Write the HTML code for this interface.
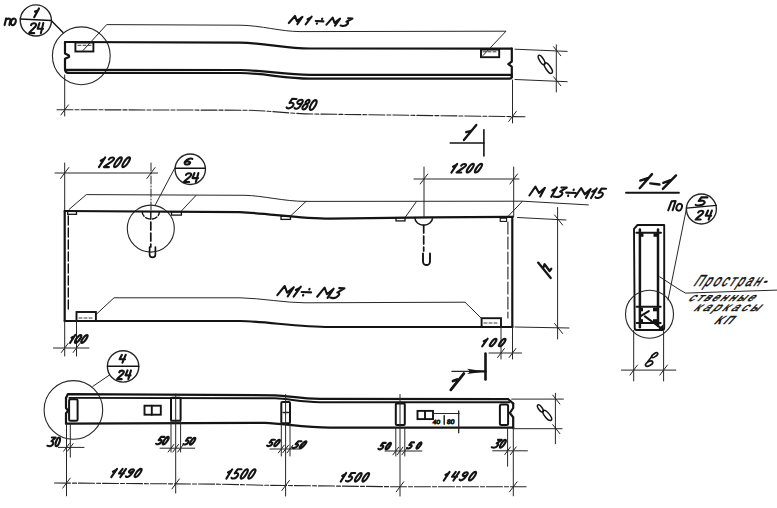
<!DOCTYPE html>
<html><head><meta charset="utf-8"><style>
html,body{margin:0;padding:0;background:#fff;width:777px;height:508px;overflow:hidden}
svg{display:block}
text{font-family:"Liberation Sans",sans-serif}
</style></head><body>
<svg width="777" height="508" viewBox="0 0 777 508">
<circle cx="35.85" cy="20.45" r="15.6" fill="none" stroke="#262626" stroke-width="1.4"/>
<path d="M20.1,18.9 L51.2,20.6" fill="none" stroke="#141414" stroke-width="1.5" stroke-linecap="round" stroke-linejoin="round" />
<path d="M51.2,20.6 L63,32.5" fill="none" stroke="#141414" stroke-width="1.4" stroke-linecap="round" stroke-linejoin="round" />
<g id="h490a3461" transform="matrix(1.0898,0,0,1.0090,-0.782,-0.482)"><g transform="translate(4.950,25.350) rotate(0) scale(0.9429) skewX(-12.000000000000002)" fill="none" stroke="#141414" stroke-width="2.1" stroke-linecap="round" stroke-linejoin="round"><path vector-effect="non-scaling-stroke" transform="translate(0.000,0) scale(1.15,1)" d="M0,0 L0,-7 M0,-5 C0.4,-7.4 4,-7.4 4,-5 L4,0"/><path vector-effect="non-scaling-stroke" transform="translate(5.473,0) scale(1.15,1)" d="M2,-7 A2,3.5 0 1 1 2,0 A2,3.5 0 1 1 2,-7 Z"/></g></g>
<path d="M34.2,17.2 L39,8.5 M35,11.6 L37.2,10.9" fill="none" stroke="#141414" stroke-width="2.2" stroke-linecap="round" stroke-linejoin="round" />
<g id="h47fd73af" transform="matrix(1.0954,0,0,0.9634,-2.672,0.806)"><g transform="translate(29.050,33.550) rotate(0) scale(1.0500) skewX(-12.000000000000002)" fill="none" stroke="#141414" stroke-width="2.1" stroke-linecap="round" stroke-linejoin="round"><path vector-effect="non-scaling-stroke" transform="translate(0.000,0) scale(1.1,1)" d="M0,-7.8 C0,-10.5 4,-10.5 4,-7.8 C4,-5.5 1,-3 0,0 L4,0"/><path vector-effect="non-scaling-stroke" transform="translate(6.258,0) scale(1.1,1)" d="M0.6,-10 L0.2,-4.3 L4.5,-4.3 M3.6,-10 L3.6,0"/></g></g>
<circle cx="81.3" cy="55.8" r="28.9" fill="none" stroke="#262626" stroke-width="1.1"/>
<path d="M65,42 L240,42.6 C265,43 285,48.3 310,48.5 L511.8,48.6" fill="none" stroke="#141414" stroke-width="2.2" stroke-linecap="round" stroke-linejoin="round" />
<path d="M65,42 L65,53.5 L69,55.5 L69,57 L65,58.8 L65,69 Q65,72.9 68.5,72.9" fill="none" stroke="#141414" stroke-width="2.2" stroke-linecap="round" stroke-linejoin="round" />
<path d="M66.5,69.8 L240,70 C265,70.3 285,74.9 310,74.9 L511.8,74.9" fill="none" stroke="#141414" stroke-width="2.2" stroke-linecap="round" stroke-linejoin="round" />
<path d="M68.5,72.9 L240,73 C265,73.3 285,78.6 310,78.6 L509.5,78.6 Q511.8,78.6 511.8,76.5" fill="none" stroke="#141414" stroke-width="2.2" stroke-linecap="round" stroke-linejoin="round" />
<path d="M511.8,48.5 L511.8,61.5 L508.3,64.1 L511.8,66.7 L511.8,77" fill="none" stroke="#141414" stroke-width="2.2" stroke-linecap="round" stroke-linejoin="round" />
<rect x="75.4" y="42.5" width="18.0" height="9.0" rx="0" fill="none" stroke="#141414" stroke-width="1.9"/>
<path d="M78,45.3 L91,45.3" fill="none" stroke="#262626" stroke-width="0.9" stroke-linecap="round" stroke-linejoin="round" stroke-dasharray="3 2"/>
<path d="M83,50.5 L106.7,24.6 L240,25.2 C262,25.5 280,31.5 300,31.6 L506,31.2 L483,55.5" fill="none" stroke="#262626" stroke-width="1.0" stroke-linecap="round" stroke-linejoin="round" />
<rect x="481" y="49.6" width="18.2" height="7.6" rx="0" fill="none" stroke="#141414" stroke-width="1.9"/>
<path d="M483,51.8 L497,51.8" fill="none" stroke="#262626" stroke-width="0.9" stroke-linecap="round" stroke-linejoin="round" stroke-dasharray="3 2"/>
<g id="h900a503b" transform="matrix(0.9862,0,0,0.8209,4.313,2.374)"><g transform="translate(288.650,25.950) rotate(3) scale(0.9700) skewX(-30)" fill="none" stroke="#141414" stroke-width="2.1" stroke-linecap="round" stroke-linejoin="round"><path vector-effect="non-scaling-stroke" transform="translate(0.000,0) scale(1.15,1)" d="M-0.6,-0.8 L0,-10 L5.2,-3.6 L7.2,-9.2 L7.6,0"/><path vector-effect="non-scaling-stroke" transform="translate(15.601,0) scale(1.15,1)" d="M1.6,0 L1.6,-10 M-0.3,-6.6 L1.5,-8.6"/><path vector-effect="non-scaling-stroke" transform="translate(24.991,0) scale(1.15,1)" d="M0,-4.8 L7,-4.8 M4.1,-8.2 L4.2,-7.6 M2.7,-2 L2.8,-1.4"/><path vector-effect="non-scaling-stroke" transform="translate(39.442,0) scale(1.15,1)" d="M-0.6,-0.8 L0,-10 L5.2,-3.6 L7.2,-9.2 L7.6,0"/><path vector-effect="non-scaling-stroke" transform="translate(55.043,0) scale(1.15,1)" d="M0.5,-10 L4.4,-10 L1.4,-5.6 C4.8,-5.6 4.8,0 1.2,0 L-1.2,-0.5"/></g></g>
<g id="h5550714c" transform="matrix(1.0350,0,0,0.9120,-10.460,8.280)"><g transform="translate(286.450,109.750) rotate(4) scale(1.1000) skewX(-21.436777074430047)" fill="none" stroke="#141414" stroke-width="2.1" stroke-linecap="round" stroke-linejoin="round"><path vector-effect="non-scaling-stroke" transform="translate(0.000,0) scale(1.15,1)" d="M4,-10 L0.7,-10 L0.4,-5.6 C1.3,-6.4 4.2,-6.4 4.2,-3 C4.2,0.3 0.8,0.3 0,-1"/><path vector-effect="non-scaling-stroke" transform="translate(6.830,0) scale(1.15,1)" d="M3.8,-7.2 C3.8,-4.5 0,-4.5 0,-7.2 C0,-10.3 3.8,-10.3 3.8,-7.2 L3.6,-3 C3.4,0.3 0.8,0.3 0.2,-1"/><path vector-effect="non-scaling-stroke" transform="translate(13.200,0) scale(1.15,1)" d="M1.9,-5.6 C3.6,-5.6 3.6,-10 1.9,-10 C0.2,-10 0.2,-5.6 1.9,-5.6 C4,-5.6 4,0 1.9,0 C-0.2,0 -0.2,-5.6 1.9,-5.6 Z"/><path vector-effect="non-scaling-stroke" transform="translate(19.570,0) scale(1.15,1)" d="M1.8,-10 A1.8,5 0 1 1 1.8,0 A1.8,5 0 1 1 1.8,-10 Z"/></g></g>
<path d="M64.7,75 L64.7,116" fill="none" stroke="#262626" stroke-width="1.0" stroke-linecap="round" stroke-linejoin="round" />
<path d="M57,109.7 L245,110.2 C270,110.5 290,114 320,114.1 L525,116.8" fill="none" stroke="#262626" stroke-width="1.1" stroke-linecap="round" stroke-linejoin="round" stroke-dasharray="16 2 4 2"/>
<path d="M512.5,80 L512.5,123" fill="none" stroke="#262626" stroke-width="1.0" stroke-linecap="round" stroke-linejoin="round" />
<path d="M60.95,114.9 L68.45,104.9" fill="none" stroke="#262626" stroke-width="1.0" stroke-linecap="round" stroke-linejoin="round" />
<path d="M508.75,121.4 L516.25,111.4" fill="none" stroke="#262626" stroke-width="1.0" stroke-linecap="round" stroke-linejoin="round" />
<path d="M515,49.2 L567.2,51.4" fill="none" stroke="#262626" stroke-width="1.0" stroke-linecap="round" stroke-linejoin="round" />
<path d="M515,79.5 L567.2,81.7" fill="none" stroke="#262626" stroke-width="1.0" stroke-linecap="round" stroke-linejoin="round" />
<path d="M556.3,44.9 L556.3,92" fill="none" stroke="#262626" stroke-width="1.0" stroke-linecap="round" stroke-linejoin="round" />
<path d="M553.6,46.75 L560.8,55.75" fill="none" stroke="#262626" stroke-width="1.0" stroke-linecap="round" stroke-linejoin="round" />
<path d="M553.6,76.75 L560.8,85.75" fill="none" stroke="#262626" stroke-width="1.0" stroke-linecap="round" stroke-linejoin="round" />
<ellipse cx="541.6" cy="60" rx="5.4" ry="2.0" transform="rotate(58 541.6 60)" fill="none" stroke="#141414" stroke-width="1.5"/>
<ellipse cx="548.3" cy="68.1" rx="6.1" ry="2.4" transform="rotate(55 548.3 68.1)" fill="none" stroke="#141414" stroke-width="1.5"/>
<path d="M450.2,143 L483.9,143" fill="none" stroke="#141414" stroke-width="1.5" stroke-linecap="round" stroke-linejoin="round" />
<path d="M483.9,129.8 L483.9,155.9" fill="none" stroke="#141414" stroke-width="1.6" stroke-linecap="round" stroke-linejoin="round" />
<path d="M463.9,140 L476.3,124.9 M466.2,132.2 L470.5,131" fill="none" stroke="#141414" stroke-width="2.3" stroke-linecap="round" stroke-linejoin="round" />
<path d="M55,173 L157.6,173" fill="none" stroke="#262626" stroke-width="1.0" stroke-linecap="round" stroke-linejoin="round" />
<path d="M60.58,178.5 L68.83,167.5" fill="none" stroke="#262626" stroke-width="1.0" stroke-linecap="round" stroke-linejoin="round" />
<path d="M146.88,178.5 L155.12,167.5" fill="none" stroke="#262626" stroke-width="1.0" stroke-linecap="round" stroke-linejoin="round" />
<path d="M64.7,163 L64.7,212" fill="none" stroke="#262626" stroke-width="1.0" stroke-linecap="round" stroke-linejoin="round" />
<path d="M151,163 L151,211" fill="none" stroke="#262626" stroke-width="1.0" stroke-linecap="round" stroke-linejoin="round" stroke-dasharray="8 2 1 2"/>
<g id="h69ad45b2" transform="matrix(1.1091,0,0,0.9908,-13.135,1.465)"><g transform="translate(99.250,167.150) rotate(0) scale(0.9800) skewX(-30)" fill="none" stroke="#141414" stroke-width="2.1" stroke-linecap="round" stroke-linejoin="round"><path vector-effect="non-scaling-stroke" transform="translate(0.000,0) scale(1.15,1)" d="M1.6,0 L1.6,-10 M-0.3,-6.6 L1.5,-8.6"/><path vector-effect="non-scaling-stroke" transform="translate(6.388,0) scale(1.15,1)" d="M0,-7.8 C0,-10.5 4,-10.5 4,-7.8 C4,-5.5 1,-3 0,0 L4,0"/><path vector-effect="non-scaling-stroke" transform="translate(14.385,0) scale(1.15,1)" d="M1.8,-10 A1.8,5 0 1 1 1.8,0 A1.8,5 0 1 1 1.8,-10 Z"/><path vector-effect="non-scaling-stroke" transform="translate(21.923,0) scale(1.15,1)" d="M1.8,-10 A1.8,5 0 1 1 1.8,0 A1.8,5 0 1 1 1.8,-10 Z"/></g></g>
<path d="M414,179 L519,179" fill="none" stroke="#262626" stroke-width="1.0" stroke-linecap="round" stroke-linejoin="round" />
<path d="M420.25,184 L427.75,174" fill="none" stroke="#262626" stroke-width="1.0" stroke-linecap="round" stroke-linejoin="round" />
<path d="M509.95,184 L517.45,174" fill="none" stroke="#262626" stroke-width="1.0" stroke-linecap="round" stroke-linejoin="round" />
<path d="M424,167 L424,217" fill="none" stroke="#262626" stroke-width="1.0" stroke-linecap="round" stroke-linejoin="round" />
<path d="M513.7,167 L513.7,216.5" fill="none" stroke="#262626" stroke-width="1.0" stroke-linecap="round" stroke-linejoin="round" />
<g id="h1946f7e4" transform="matrix(1.1000,0,0,0.9512,-47.200,8.136)"><g transform="translate(451.550,172.850) rotate(0) scale(0.9200) skewX(-30)" fill="none" stroke="#141414" stroke-width="2.1" stroke-linecap="round" stroke-linejoin="round"><path vector-effect="non-scaling-stroke" transform="translate(0.000,0) scale(1.15,1)" d="M1.6,0 L1.6,-10 M-0.3,-6.6 L1.5,-8.6"/><path vector-effect="non-scaling-stroke" transform="translate(6.971,0) scale(1.15,1)" d="M0,-7.8 C0,-10.5 4,-10.5 4,-7.8 C4,-5.5 1,-3 0,0 L4,0"/><path vector-effect="non-scaling-stroke" transform="translate(15.552,0) scale(1.15,1)" d="M1.8,-10 A1.8,5 0 1 1 1.8,0 A1.8,5 0 1 1 1.8,-10 Z"/><path vector-effect="non-scaling-stroke" transform="translate(23.673,0) scale(1.15,1)" d="M1.8,-10 A1.8,5 0 1 1 1.8,0 A1.8,5 0 1 1 1.8,-10 Z"/></g></g>
<circle cx="190.25" cy="169.25" r="15.2" fill="none" stroke="#262626" stroke-width="1.4"/>
<path d="M175.5,168.3 L205.2,168.3" fill="none" stroke="#141414" stroke-width="1.5" stroke-linecap="round" stroke-linejoin="round" />
<g id="hca6dbec5" transform="matrix(1.7580,0,0,1.0453,-142.196,-6.748)"><g transform="translate(184.850,164.350) rotate(0) scale(0.6200) skewX(-20)" fill="none" stroke="#141414" stroke-width="2.1" stroke-linecap="round" stroke-linejoin="round"><path vector-effect="non-scaling-stroke" transform="translate(0.000,0) scale(1.4,1)" d="M3.8,-9.5 C3,-10.4 0.3,-10.3 0.2,-5.2 C0.1,0 4,0.3 4,-2.9 C4,-5.8 0.6,-6.2 0.2,-3.8"/></g></g>
<g id="hf826437e" transform="matrix(1.0544,0,0,1.0000,-9.667,0.000)"><g transform="translate(183.650,181.950) rotate(0) scale(0.8900) skewX(-15.265468078920891)" fill="none" stroke="#141414" stroke-width="2.1" stroke-linecap="round" stroke-linejoin="round"><path vector-effect="non-scaling-stroke" transform="translate(0.000,0) scale(1.4,1)" d="M0,-7.8 C0,-10.5 4,-10.5 4,-7.8 C4,-5.5 1,-3 0,0 L4,0"/><path vector-effect="non-scaling-stroke" transform="translate(7.600,0) scale(1.4,1)" d="M0.6,-10 L0.2,-4.3 L4.5,-4.3 M3.6,-10 L3.6,0"/></g></g>
<path d="M174.8,168 L155.5,204.5" fill="none" stroke="#262626" stroke-width="1.0" stroke-linecap="round" stroke-linejoin="round" />
<circle cx="150.8" cy="228.6" r="23.5" fill="none" stroke="#262626" stroke-width="1.1"/>
<path d="M64.7,211 L240,212.2 C265,213 300,218.5 330,218.6 L430,217.3 L512.7,216.8" fill="none" stroke="#141414" stroke-width="2.2" stroke-linecap="round" stroke-linejoin="round" />
<path d="M64.7,321 L240,321 C265,321.5 300,327 330,327 L512.5,327" fill="none" stroke="#141414" stroke-width="2.2" stroke-linecap="round" stroke-linejoin="round" />
<path d="M64.7,211 L64.7,321" fill="none" stroke="#141414" stroke-width="2.2" stroke-linecap="round" stroke-linejoin="round" />
<path d="M68.3,216 L68.3,312" fill="none" stroke="#141414" stroke-width="1.4" stroke-linecap="round" stroke-linejoin="round" stroke-dasharray="9 3"/>
<path d="M512.3,216.8 L512.3,327" fill="none" stroke="#141414" stroke-width="2.2" stroke-linecap="round" stroke-linejoin="round" />
<path d="M507.9,222 L507.9,318" fill="none" stroke="#262626" stroke-width="1.1" stroke-linecap="round" stroke-linejoin="round" stroke-dasharray="12 3"/>
<path d="M69,209.5 L86.3,194.6 L245,195.3 C262,195.6 285,201.4 305,201.4 L522.5,201.2 L588.4,204.9" fill="none" stroke="#262626" stroke-width="1.0" stroke-linecap="round" stroke-linejoin="round" />
<path d="M181,211.4 L196,195.4" fill="none" stroke="#262626" stroke-width="1.0" stroke-linecap="round" stroke-linejoin="round" />
<path d="M290.5,216 L306,201.4" fill="none" stroke="#262626" stroke-width="1.0" stroke-linecap="round" stroke-linejoin="round" />
<path d="M405,217.6 L416.6,201.3" fill="none" stroke="#262626" stroke-width="1.0" stroke-linecap="round" stroke-linejoin="round" />
<path d="M507.6,216.8 L522.5,201.2" fill="none" stroke="#262626" stroke-width="1.0" stroke-linecap="round" stroke-linejoin="round" />
<rect x="67.7" y="211.2" width="8.8" height="3.1" rx="0" fill="none" stroke="#141414" stroke-width="1.3"/>
<rect x="171.5" y="211.6" width="9.9" height="3.5" rx="0" fill="none" stroke="#141414" stroke-width="1.3"/>
<rect x="281" y="216.2" width="9.5" height="3.2" rx="0" fill="none" stroke="#141414" stroke-width="1.3"/>
<rect x="396" y="217.6" width="9" height="3.3" rx="0" fill="none" stroke="#141414" stroke-width="1.3"/>
<rect x="500.2" y="218.2" width="6.4" height="3.2" rx="0" fill="none" stroke="#141414" stroke-width="1.1"/>
<path d="M142.2,211.8 A8.6,7.3 0 0 0 159.4,211.8" fill="none" stroke="#141414" stroke-width="1.4" stroke-linecap="round" stroke-linejoin="round" stroke-dasharray="5 2"/>
<path d="M150.8,212 L150.8,219" fill="none" stroke="#141414" stroke-width="1.4" stroke-linecap="round" stroke-linejoin="round" />
<path d="M150.8,222 L150.8,247" fill="none" stroke="#141414" stroke-width="1.7" stroke-linecap="round" stroke-linejoin="round" stroke-dasharray="8 3"/>
<path d="M149.6,247 L149.6,254.5 A2.9,2.9 0 0 0 155.4,254.5 L155.4,247" fill="none" stroke="#141414" stroke-width="1.7" stroke-linecap="round" stroke-linejoin="round" />
<path d="M414.9,217.8 A8.8,7.4 0 0 0 432.5,217.8" fill="none" stroke="#141414" stroke-width="1.5" stroke-linecap="round" stroke-linejoin="round" />
<path d="M423.7,225 L423.7,251" fill="none" stroke="#141414" stroke-width="1.7" stroke-linecap="round" stroke-linejoin="round" stroke-dasharray="8 3"/>
<path d="M423,253.4 L423,261.5 A3.5,3.5 0 0 0 430,261.5 L430,253.4" fill="none" stroke="#141414" stroke-width="1.9" stroke-linecap="round" stroke-linejoin="round" />
<path d="M96.6,314 L114,297.8 L240,297.8 C262,298.3 285,302.8 305,302.8 L465,302.2 L481.6,318.5" fill="none" stroke="#262626" stroke-width="1.0" stroke-linecap="round" stroke-linejoin="round" />
<rect x="76.5" y="312" width="19.4" height="9" rx="0" fill="none" stroke="#141414" stroke-width="1.9"/>
<path d="M79,318 L94,318" fill="none" stroke="#262626" stroke-width="0.9" stroke-linecap="round" stroke-linejoin="round" stroke-dasharray="3 2"/>
<rect x="481.6" y="318.2" width="19.4" height="8.8" rx="0" fill="none" stroke="#141414" stroke-width="1.9"/>
<path d="M484,323 L499,323" fill="none" stroke="#262626" stroke-width="0.9" stroke-linecap="round" stroke-linejoin="round" stroke-dasharray="3 2"/>
<g id="h2fa988ea" transform="matrix(0.9861,0,0,0.8683,4.239,37.216)"><g transform="translate(277.150,298.050) rotate(2.5) scale(1.1800) skewX(-30)" fill="none" stroke="#141414" stroke-width="2.1" stroke-linecap="round" stroke-linejoin="round"><path vector-effect="non-scaling-stroke" transform="translate(0.000,0) scale(1.15,1)" d="M-0.6,-0.8 L0,-10 L5.2,-3.6 L7.2,-9.2 L7.6,0"/><path vector-effect="non-scaling-stroke" transform="translate(11.994,0) scale(1.15,1)" d="M1.6,0 L1.6,-10 M-0.3,-6.6 L1.5,-8.6"/><path vector-effect="non-scaling-stroke" transform="translate(17.778,0) scale(1.15,1)" d="M0,-4.8 L7,-4.8 M4.1,-8.2 L4.2,-7.6 M2.7,-2 L2.8,-1.4"/><path vector-effect="non-scaling-stroke" transform="translate(34.291,0) scale(1.15,1)" d="M-0.6,-0.8 L0,-10 L5.2,-3.6 L7.2,-9.2 L7.6,0"/><path vector-effect="non-scaling-stroke" transform="translate(46.285,0) scale(1.15,1)" d="M0.5,-10 L4.4,-10 L1.4,-5.6 C4.8,-5.6 4.8,0 1.2,0 L-1.2,-0.5"/></g></g>
<path d="M64.7,321 L64.7,356" fill="none" stroke="#262626" stroke-width="1.0" stroke-linecap="round" stroke-linejoin="round" />
<path d="M76.5,321 L76.5,356" fill="none" stroke="#262626" stroke-width="1.0" stroke-linecap="round" stroke-linejoin="round" />
<path d="M53.5,348 L89,348" fill="none" stroke="#262626" stroke-width="1.0" stroke-linecap="round" stroke-linejoin="round" />
<path d="M61.33,352.5 L68.08,343.5" fill="none" stroke="#262626" stroke-width="1.0" stroke-linecap="round" stroke-linejoin="round" />
<path d="M73.12,352.5 L79.88,343.5" fill="none" stroke="#262626" stroke-width="1.0" stroke-linecap="round" stroke-linejoin="round" />
<g id="hb270a863" transform="matrix(1.1819,0,0,1.0338,-15.007,-11.628)"><g transform="translate(70.550,342.950) rotate(0) scale(0.7700) skewX(-30)" fill="none" stroke="#141414" stroke-width="2.1" stroke-linecap="round" stroke-linejoin="round"><path vector-effect="non-scaling-stroke" transform="translate(0.000,0) scale(1.15,1)" d="M1.6,0 L1.6,-10 M-0.3,-6.6 L1.5,-8.6"/><path vector-effect="non-scaling-stroke" transform="translate(5.767,0) scale(1.15,1)" d="M1.8,-10 A1.8,5 0 1 1 1.8,0 A1.8,5 0 1 1 1.8,-10 Z"/><path vector-effect="non-scaling-stroke" transform="translate(12.684,0) scale(1.15,1)" d="M1.8,-10 A1.8,5 0 1 1 1.8,0 A1.8,5 0 1 1 1.8,-10 Z"/></g></g>
<path d="M501,327 L501,359" fill="none" stroke="#262626" stroke-width="1.0" stroke-linecap="round" stroke-linejoin="round" />
<path d="M512.5,327 L512.5,359" fill="none" stroke="#262626" stroke-width="1.0" stroke-linecap="round" stroke-linejoin="round" />
<path d="M489,353 L521.5,353" fill="none" stroke="#262626" stroke-width="1.0" stroke-linecap="round" stroke-linejoin="round" />
<path d="M497.62,357.5 L504.38,348.5" fill="none" stroke="#262626" stroke-width="1.0" stroke-linecap="round" stroke-linejoin="round" />
<path d="M509.12,357.5 L515.88,348.5" fill="none" stroke="#262626" stroke-width="1.0" stroke-linecap="round" stroke-linejoin="round" />
<g id="hd41e3bdf" transform="matrix(1.1241,0,0,0.8894,-61.574,37.889)"><g transform="translate(482.150,346.750) rotate(0) scale(0.8500) skewX(-30)" fill="none" stroke="#141414" stroke-width="2.1" stroke-linecap="round" stroke-linejoin="round"><path vector-effect="non-scaling-stroke" transform="translate(0.000,0) scale(1.15,1)" d="M1.6,0 L1.6,-10 M-0.3,-6.6 L1.5,-8.6"/><path vector-effect="non-scaling-stroke" transform="translate(8.351,0) scale(1.15,1)" d="M1.8,-10 A1.8,5 0 1 1 1.8,0 A1.8,5 0 1 1 1.8,-10 Z"/><path vector-effect="non-scaling-stroke" transform="translate(17.851,0) scale(1.15,1)" d="M1.8,-10 A1.8,5 0 1 1 1.8,0 A1.8,5 0 1 1 1.8,-10 Z"/></g></g>
<path d="M485.5,353.5 L485.5,379.5" fill="none" stroke="#141414" stroke-width="2.6" stroke-linecap="round" stroke-linejoin="round" />
<path d="M451.9,371.4 L470,371.4" fill="none" stroke="#262626" stroke-width="1.1" stroke-linecap="round" stroke-linejoin="round" />
<path d="M485.5,371.4 L467,368.8 L470.5,371.4 L467,374 Z" fill="#141414"/>
<path d="M470,371.4 L485.5,371.4" fill="none" stroke="#141414" stroke-width="2.4" stroke-linecap="round" stroke-linejoin="round" />
<path d="M450.8,389.8 L463.8,373.6 M453,381 L457,379.5" fill="none" stroke="#141414" stroke-width="2.8" stroke-linecap="round" stroke-linejoin="round" />
<path d="M517.5,217.5 L566,220" fill="none" stroke="#262626" stroke-width="1.0" stroke-linecap="round" stroke-linejoin="round" />
<path d="M515,327 L569,328" fill="none" stroke="#262626" stroke-width="1.0" stroke-linecap="round" stroke-linejoin="round" />
<path d="M557.6,207.5 L557.6,339" fill="none" stroke="#262626" stroke-width="1.0" stroke-linecap="round" stroke-linejoin="round" />
<path d="M554.6,215.0 L562.6,225.0" fill="none" stroke="#262626" stroke-width="1.0" stroke-linecap="round" stroke-linejoin="round" />
<path d="M554.6,323.5 L562.6,333.5" fill="none" stroke="#262626" stroke-width="1.0" stroke-linecap="round" stroke-linejoin="round" />
<path d="M538.1,262.6 L550.7,278 M543,268.3 L544.6,264.2 L549.6,271 L551.3,268.8" fill="none" stroke="#141414" stroke-width="2.3" stroke-linecap="round" stroke-linejoin="round" />
<g id="h683fea91" transform="matrix(0.9901,0,0,0.8061,6.026,36.332)"><g transform="translate(528.950,198.450) rotate(2) scale(1.2100) skewX(-23.947747184861992)" fill="none" stroke="#141414" stroke-width="2.1" stroke-linecap="round" stroke-linejoin="round"><path vector-effect="non-scaling-stroke" transform="translate(0.000,0) scale(1.15,1)" d="M-0.6,-0.8 L0,-10 L5.2,-3.6 L7.2,-9.2 L7.6,0"/><path vector-effect="non-scaling-stroke" transform="translate(16.075,0) scale(1.15,1)" d="M1.6,0 L1.6,-10 M-0.3,-6.6 L1.5,-8.6"/><path vector-effect="non-scaling-stroke" transform="translate(21.065,0) scale(1.15,1)" d="M0.5,-10 L4.4,-10 L1.4,-5.6 C4.8,-5.6 4.8,0 1.2,0 L-1.2,-0.5"/><path vector-effect="non-scaling-stroke" transform="translate(28.125,0) scale(1.15,1)" d="M0,-4.8 L7,-4.8 M4.1,-8.2 L4.2,-7.6 M2.7,-2 L2.8,-1.4"/><path vector-effect="non-scaling-stroke" transform="translate(38.175,0) scale(1.15,1)" d="M-0.6,-0.8 L0,-10 L5.2,-3.6 L7.2,-9.2 L7.6,0"/><path vector-effect="non-scaling-stroke" transform="translate(49.375,0) scale(1.15,1)" d="M1.6,0 L1.6,-10 M-0.3,-6.6 L1.5,-8.6"/><path vector-effect="non-scaling-stroke" transform="translate(54.365,0) scale(1.15,1)" d="M4,-10 L0.7,-10 L0.4,-5.6 C1.3,-6.4 4.2,-6.4 4.2,-3 C4.2,0.3 0.8,0.3 0,-1"/></g></g>
<path d="M639.7,188.2 L652,174.1 M640.3,180.6 L647.6,178.2 M650.3,183.4 L659.5,184.5 M662.9,188.9 L676,175.4 M663.3,182.8 L670.6,180.2" fill="none" stroke="#141414" stroke-width="2.4" stroke-linecap="round" stroke-linejoin="round" />
<path d="M626,192.8 L678.9,192.8" fill="none" stroke="#141414" stroke-width="1.9" stroke-linecap="round" stroke-linejoin="round" />
<path d="M668.2,210.4 L671.6,201.3 L675.6,201.1 L672.6,210.3" fill="none" stroke="#141414" stroke-width="2.0" stroke-linecap="round" stroke-linejoin="round" />
<ellipse cx="679.2" cy="207.2" rx="2.6" ry="3.6" transform="rotate(25 679.2 207.2)" fill="none" stroke="#141414" stroke-width="1.9"/>
<circle cx="701.4" cy="209" r="15" fill="none" stroke="#262626" stroke-width="1.4"/>
<path d="M686.4,208.1 L716.3,205.4" fill="none" stroke="#141414" stroke-width="1.4" stroke-linecap="round" stroke-linejoin="round" />
<g id="h2684d8dc" transform="matrix(1.4861,0,0,0.9243,-338.611,15.356)"><g transform="translate(695.650,205.850) rotate(0) scale(0.8900) skewX(-20)" fill="none" stroke="#141414" stroke-width="2.1" stroke-linecap="round" stroke-linejoin="round"><path vector-effect="non-scaling-stroke" transform="translate(0.000,0) scale(1.4,1)" d="M4,-10 L0.7,-10 L0.4,-5.6 C1.3,-6.4 4.2,-6.4 4.2,-3 C4.2,0.3 0.8,0.3 0,-1"/></g></g>
<g id="h4799f6eb" transform="matrix(1.0643,0,0,1.0635,-44.490,-13.598)"><g transform="translate(695.350,219.250) rotate(0) scale(0.8500) skewX(-20)" fill="none" stroke="#141414" stroke-width="2.1" stroke-linecap="round" stroke-linejoin="round"><path vector-effect="non-scaling-stroke" transform="translate(0.000,0) scale(1.4,1)" d="M0,-7.8 C0,-10.5 4,-10.5 4,-7.8 C4,-5.5 1,-3 0,0 L4,0"/><path vector-effect="non-scaling-stroke" transform="translate(9.354,0) scale(1.4,1)" d="M0.6,-10 L0.2,-4.3 L4.5,-4.3 M3.6,-10 L3.6,0"/></g></g>
<path d="M686.4,208.9 L668,300" fill="none" stroke="#262626" stroke-width="1.0" stroke-linecap="round" stroke-linejoin="round" />
<path d="M634,228.9 L637.5,225 L664.2,225 L664.2,328 Q664.2,330 662,330 L636.7,330 Q634.7,330 634.7,328 Z" fill="none" stroke="#141414" stroke-width="1.9" stroke-linecap="round" stroke-linejoin="round" />
<path d="M639.9,229.5 L639.9,327.3" fill="none" stroke="#141414" stroke-width="2.5" stroke-linecap="round" stroke-linejoin="round" />
<path d="M658,229.5 L658,326" fill="none" stroke="#141414" stroke-width="2.5" stroke-linecap="round" stroke-linejoin="round" />
<path d="M636.4,232.7 L660.9,232.7" fill="none" stroke="#141414" stroke-width="2.1" stroke-linecap="round" stroke-linejoin="round" />
<path d="M636.6,306.8 L660.6,306.8" fill="none" stroke="#141414" stroke-width="2.1" stroke-linecap="round" stroke-linejoin="round" />
<path d="M636.6,323 L660.6,323" fill="none" stroke="#141414" stroke-width="2.1" stroke-linecap="round" stroke-linejoin="round" />
<rect x="639.5" y="233.2" width="4" height="3.6" fill="#141414"/>
<rect x="653.5" y="233.2" width="4" height="3.6" fill="#141414"/>
<rect x="639" y="307.7" width="4" height="3.6" fill="#141414"/>
<rect x="653" y="307.7" width="4" height="3.6" fill="#141414"/>
<rect x="639" y="319.2" width="4" height="3.6" fill="#141414"/>
<rect x="653" y="319.2" width="4" height="3.6" fill="#141414"/>
<path d="M641,315.9 L648.8,311.1 M644.9,316.3 L661.5,328.5" fill="none" stroke="#141414" stroke-width="2.1" stroke-linecap="round" stroke-linejoin="round" />
<path d="M663.5,324 L663.5,330.5 L657,330.5 Z" fill="#141414"/>
<circle cx="649.5" cy="314.2" r="24" fill="none" stroke="#262626" stroke-width="1.1"/>
<path d="M659.7,276.8 L680,290 L685.6,293.1 L777,290.1" fill="none" stroke="#262626" stroke-width="1.0" stroke-linecap="round" stroke-linejoin="round" />
<g id="t0fac9aa3" transform="matrix(0.9472,0,0,0.8110,36.055,51.570)"><text transform="translate(693.3,289) skewX(-30) scale(0.6,1)" font-size="19.86" letter-spacing="0.2em" font-family="Liberation Sans" fill="#141414" stroke="#141414" stroke-width="0.7">Простран-</text></g>
<g id="tfc3db021" transform="matrix(1.2797,0,0,0.7601,-194.173,71.849)"><text transform="translate(689.1,302) skewX(-30) scale(0.6,1)" font-size="14.53" letter-spacing="0.2em" font-family="Liberation Sans" fill="#141414" stroke="#141414" stroke-width="0.75">ственные</text></g>
<g id="t766db73a" transform="matrix(1.1381,0,0,0.6500,-96.764,106.666)"><text transform="translate(693.9,313.8) skewX(-30) scale(0.6,1)" font-size="17.92" letter-spacing="0.25em" font-family="Liberation Sans" fill="#141414" stroke="#141414" stroke-width="0.75">каркасы</text></g>
<g id="tb54bad88" transform="matrix(1.4580,0,0,0.9259,-327.488,23.114)"><text transform="translate(714,324.5) skewX(-30) scale(0.6,1)" font-size="12.36" letter-spacing="0.25em" font-family="Liberation Sans" fill="#141414" stroke="#141414" stroke-width="0.75">КП</text></g>
<path d="M633.7,330.5 L633.7,381" fill="none" stroke="#262626" stroke-width="1.0" stroke-linecap="round" stroke-linejoin="round" />
<path d="M663.6,330.5 L663.6,381" fill="none" stroke="#262626" stroke-width="1.0" stroke-linecap="round" stroke-linejoin="round" />
<path d="M621.5,370.1 L675.8,370.1" fill="none" stroke="#262626" stroke-width="1.0" stroke-linecap="round" stroke-linejoin="round" />
<path d="M629.95,375.1 L637.45,365.1" fill="none" stroke="#262626" stroke-width="1.0" stroke-linecap="round" stroke-linejoin="round" />
<path d="M659.85,375.1 L667.35,365.1" fill="none" stroke="#262626" stroke-width="1.0" stroke-linecap="round" stroke-linejoin="round" />
<ellipse cx="654.7" cy="355.2" rx="3.6" ry="1.5" transform="rotate(-35 654.7 355.2)" fill="none" stroke="#141414" stroke-width="1.6"/>
<ellipse cx="649.1" cy="363.6" rx="4.0" ry="2.0" transform="rotate(-30 649.1 363.6)" fill="none" stroke="#141414" stroke-width="1.7"/>
<path d="M647.5,362 L651.8,356.5" fill="none" stroke="#141414" stroke-width="1.6" stroke-linecap="round" stroke-linejoin="round" />
<circle cx="123.1" cy="366.4" r="15.7" fill="none" stroke="#262626" stroke-width="1.4"/>
<path d="M107.6,366.2 L138.6,366.2" fill="none" stroke="#141414" stroke-width="1.6" stroke-linecap="round" stroke-linejoin="round" />
<g id="h08bfbf5a" transform="matrix(1.0952,0,0,0.9583,-12.903,15.155)"><g transform="translate(119.450,362.650) rotate(0) scale(0.8200) skewX(-20)" fill="none" stroke="#141414" stroke-width="2.1" stroke-linecap="round" stroke-linejoin="round"><path vector-effect="non-scaling-stroke" transform="translate(0.000,0) scale(1.4,1)" d="M0.6,-10 L0.2,-4.3 L4.5,-4.3 M3.6,-10 L3.6,0"/></g></g>
<g id="h898b9675" transform="matrix(1.0898,0,0,0.9433,-10.900,21.285)"><g transform="translate(117.450,379.350) rotate(0) scale(0.9200) skewX(-15)" fill="none" stroke="#141414" stroke-width="2.1" stroke-linecap="round" stroke-linejoin="round"><path vector-effect="non-scaling-stroke" transform="translate(0.000,0) scale(1.15,1)" d="M0,-7.8 C0,-10.5 4,-10.5 4,-7.8 C4,-5.5 1,-3 0,0 L4,0"/><path vector-effect="non-scaling-stroke" transform="translate(7.037,0) scale(1.15,1)" d="M0.6,-10 L0.2,-4.3 L4.5,-4.3 M3.6,-10 L3.6,0"/></g></g>
<path d="M109.5,375 L92.8,386.4" fill="none" stroke="#262626" stroke-width="1.0" stroke-linecap="round" stroke-linejoin="round" />
<circle cx="73.4" cy="409.9" r="29.3" fill="none" stroke="#262626" stroke-width="1.1"/>
<path d="M66,397.9 L67.8,394.2 L275,395.3 C290,395.8 300,398.8 320,398.8 L508.4,399.2 L513.2,403.6" fill="none" stroke="#141414" stroke-width="2.2" stroke-linecap="round" stroke-linejoin="round" />
<path d="M69.4,397.9 L275,398.3 C290,398.8 300,402.2 320,402.2 L509.4,402.3" fill="none" stroke="#141414" stroke-width="1.9" stroke-linecap="round" stroke-linejoin="round" />
<path d="M66,423.6 L265,422.9 C285,423.8 305,427.6 330,427.6 L513.2,427.7" fill="none" stroke="#141414" stroke-width="2.2" stroke-linecap="round" stroke-linejoin="round" />
<path d="M66,397.9 L66,408 L68.2,410.7 L66,413.3 L66,423.6" fill="none" stroke="#141414" stroke-width="2.2" stroke-linecap="round" stroke-linejoin="round" />
<path d="M513.2,403.6 L513.2,408 L509.8,413 L513.2,417.3 L513.2,427.7" fill="none" stroke="#141414" stroke-width="2.2" stroke-linecap="round" stroke-linejoin="round" />
<rect x="69.1" y="399.3" width="8.5" height="21.4" rx="1.5" fill="none" stroke="#141414" stroke-width="2.0"/>
<rect x="171" y="397.8" width="9.6" height="22.9" rx="1" fill="none" stroke="#141414" stroke-width="2.0"/>
<rect x="281.3" y="401.9" width="8.7" height="21.3" rx="1" fill="none" stroke="#141414" stroke-width="2.0"/>
<rect x="395.8" y="403.5" width="9.0" height="21.5" rx="1" fill="none" stroke="#141414" stroke-width="2.0"/>
<rect x="499.9" y="404.5" width="8.2" height="20.5" rx="1.5" fill="none" stroke="#141414" stroke-width="2.0"/>
<path d="M175.7,394 L175.7,493" fill="none" stroke="#262626" stroke-width="1.0" stroke-linecap="round" stroke-linejoin="round" />
<path d="M285.6,394.5 L285.6,496" fill="none" stroke="#262626" stroke-width="1.0" stroke-linecap="round" stroke-linejoin="round" />
<path d="M400,394.5 L400,496" fill="none" stroke="#262626" stroke-width="1.0" stroke-linecap="round" stroke-linejoin="round" />
<path d="M283,412.5 L288.5,412.5" fill="none" stroke="#262626" stroke-width="1.3" stroke-linecap="round" stroke-linejoin="round" />
<rect x="144.5" y="405.7" width="16.3" height="9.0" rx="0" fill="none" stroke="#141414" stroke-width="1.9"/>
<path d="M151.8,405.7 L151.8,414.7" fill="none" stroke="#141414" stroke-width="1.9" stroke-linecap="round" stroke-linejoin="round" />
<rect x="417.5" y="410.9" width="15.5" height="8.2" rx="0" fill="none" stroke="#141414" stroke-width="1.9"/>
<path d="M425,410.9 L425,419.1" fill="none" stroke="#141414" stroke-width="1.9" stroke-linecap="round" stroke-linejoin="round" />
<path d="M433,413.5 L459.2,413.5" fill="none" stroke="#262626" stroke-width="1.2" stroke-linecap="round" stroke-linejoin="round" />
<path d="M458.7,410.9 L458.7,432.8" fill="none" stroke="#262626" stroke-width="1.3" stroke-linecap="round" stroke-linejoin="round" />
<path d="M444.2,415.7 L444.2,424.3" fill="none" stroke="#141414" stroke-width="1.4" stroke-linecap="round" stroke-linejoin="round" />
<g id="t1d8a02b6" transform="matrix(1.0745,0,0,0.8681,-32.307,55.124)"><text transform="translate(432.5,425.2) skewX(-5) scale(0.9,1)" font-size="6.94" letter-spacing="0em" font-family="Liberation Sans" fill="#141414" stroke="#141414" stroke-width="0.9">40</text></g>
<g id="t079d5f63" transform="matrix(1.0916,0,0,0.9421,-40.472,24.866)"><text transform="translate(446.4,423.8) skewX(-5) scale(0.9,1)" font-size="6.81" letter-spacing="0em" font-family="Liberation Sans" fill="#141414" stroke="#141414" stroke-width="0.9">80</text></g>
<path d="M66.5,423.8 L66.5,495.8" fill="none" stroke="#262626" stroke-width="1.0" stroke-linecap="round" stroke-linejoin="round" />
<path d="M70.3,423.8 L70.3,457.2" fill="none" stroke="#262626" stroke-width="1.0" stroke-linecap="round" stroke-linejoin="round" />
<path d="M58.3,447.4 L84,447.4" fill="none" stroke="#262626" stroke-width="1.0" stroke-linecap="round" stroke-linejoin="round" />
<path d="M63.65,451.2 L69.35,443.6" fill="none" stroke="#262626" stroke-width="1.0" stroke-linecap="round" stroke-linejoin="round" />
<path d="M67.45,451.2 L73.15,443.6" fill="none" stroke="#262626" stroke-width="1.0" stroke-linecap="round" stroke-linejoin="round" />
<g id="h4d615e84" transform="matrix(0.9444,0,0,0.9512,3.864,21.645)"><g transform="translate(47.150,446.350) rotate(0) scale(0.9200) skewX(-18.59920523366936)" fill="none" stroke="#141414" stroke-width="2.1" stroke-linecap="round" stroke-linejoin="round"><path vector-effect="non-scaling-stroke" transform="translate(0.000,0) scale(1.15,1)" d="M0.5,-10 L4.4,-10 L1.4,-5.6 C4.8,-5.6 4.8,0 1.2,0 L-1.2,-0.5"/><path vector-effect="non-scaling-stroke" transform="translate(7.060,0) scale(1.15,1)" d="M1.8,-10 A1.8,5 0 1 1 1.8,0 A1.8,5 0 1 1 1.8,-10 Z"/></g></g>
<path d="M171,421 L171,452" fill="none" stroke="#262626" stroke-width="1.0" stroke-linecap="round" stroke-linejoin="round" />
<path d="M180.6,421 L180.6,452" fill="none" stroke="#262626" stroke-width="1.0" stroke-linecap="round" stroke-linejoin="round" />
<path d="M160,448.2 L194.7,448.2" fill="none" stroke="#262626" stroke-width="1.0" stroke-linecap="round" stroke-linejoin="round" />
<path d="M168.15,452.0 L173.85,444.4" fill="none" stroke="#262626" stroke-width="1.0" stroke-linecap="round" stroke-linejoin="round" />
<path d="M172.85,452.0 L178.55,444.4" fill="none" stroke="#262626" stroke-width="1.0" stroke-linecap="round" stroke-linejoin="round" />
<path d="M177.75,452.0 L183.45,444.4" fill="none" stroke="#262626" stroke-width="1.0" stroke-linecap="round" stroke-linejoin="round" />
<g id="h68effc25" transform="matrix(1.1257,0,0,0.9950,-20.251,2.610)"><g transform="translate(156.150,444.050) rotate(0) scale(0.7600) skewX(-30)" fill="none" stroke="#141414" stroke-width="2.1" stroke-linecap="round" stroke-linejoin="round"><path vector-effect="non-scaling-stroke" transform="translate(0.000,0) scale(1.15,1)" d="M4,-10 L0.7,-10 L0.4,-5.6 C1.3,-6.4 4.2,-6.4 4.2,-3 C4.2,0.3 0.8,0.3 0,-1"/><path vector-effect="non-scaling-stroke" transform="translate(6.929,0) scale(1.15,1)" d="M1.8,-10 A1.8,5 0 1 1 1.8,0 A1.8,5 0 1 1 1.8,-10 Z"/></g></g>
<g id="hef03e436" transform="matrix(1.0915,0,0,0.9580,-17.057,18.698)"><g transform="translate(183.250,444.650) rotate(0) scale(0.7200) skewX(-30)" fill="none" stroke="#141414" stroke-width="2.1" stroke-linecap="round" stroke-linejoin="round"><path vector-effect="non-scaling-stroke" transform="translate(0.000,0) scale(1.15,1)" d="M4,-10 L0.7,-10 L0.4,-5.6 C1.3,-6.4 4.2,-6.4 4.2,-3 C4.2,0.3 0.8,0.3 0,-1"/><path vector-effect="non-scaling-stroke" transform="translate(7.309,0) scale(1.15,1)" d="M1.8,-10 A1.8,5 0 1 1 1.8,0 A1.8,5 0 1 1 1.8,-10 Z"/></g></g>
<path d="M281.3,424 L281.3,456" fill="none" stroke="#262626" stroke-width="1.0" stroke-linecap="round" stroke-linejoin="round" />
<path d="M290,424 L290,456" fill="none" stroke="#262626" stroke-width="1.0" stroke-linecap="round" stroke-linejoin="round" />
<path d="M270,449 L300,449" fill="none" stroke="#262626" stroke-width="1.0" stroke-linecap="round" stroke-linejoin="round" />
<path d="M278.45,452.8 L284.15,445.2" fill="none" stroke="#262626" stroke-width="1.0" stroke-linecap="round" stroke-linejoin="round" />
<path d="M282.75,452.8 L288.45,445.2" fill="none" stroke="#262626" stroke-width="1.0" stroke-linecap="round" stroke-linejoin="round" />
<path d="M287.15,452.8 L292.85,445.2" fill="none" stroke="#262626" stroke-width="1.0" stroke-linecap="round" stroke-linejoin="round" />
<g id="h48451d30" transform="matrix(1.1635,0,0,0.9342,-44.228,29.252)"><g transform="translate(267.150,446.350) rotate(0) scale(0.6900) skewX(-30)" fill="none" stroke="#141414" stroke-width="2.1" stroke-linecap="round" stroke-linejoin="round"><path vector-effect="non-scaling-stroke" transform="translate(0.000,0) scale(1.15,1)" d="M4,-10 L0.7,-10 L0.4,-5.6 C1.3,-6.4 4.2,-6.4 4.2,-3 C4.2,0.3 0.8,0.3 0,-1"/><path vector-effect="non-scaling-stroke" transform="translate(8.058,0) scale(1.15,1)" d="M1.8,-10 A1.8,5 0 1 1 1.8,0 A1.8,5 0 1 1 1.8,-10 Z"/></g></g>
<g id="h83e76bf6" transform="matrix(1.1378,0,0,1.0314,-41.251,-13.964)"><g transform="translate(292.750,448.150) rotate(0) scale(0.6800) skewX(-38)" fill="none" stroke="#141414" stroke-width="2.1" stroke-linecap="round" stroke-linejoin="round"><path vector-effect="non-scaling-stroke" transform="translate(0.000,0) scale(1.15,1)" d="M4,-10 L0.7,-10 L0.4,-5.6 C1.3,-6.4 4.2,-6.4 4.2,-3 C4.2,0.3 0.8,0.3 0,-1"/><path vector-effect="non-scaling-stroke" transform="translate(8.488,0) scale(1.15,1)" d="M1.8,-10 A1.8,5 0 1 1 1.8,0 A1.8,5 0 1 1 1.8,-10 Z"/></g></g>
<path d="M395.8,427.5 L395.8,456" fill="none" stroke="#262626" stroke-width="1.0" stroke-linecap="round" stroke-linejoin="round" />
<path d="M404.8,427.5 L404.8,456" fill="none" stroke="#262626" stroke-width="1.0" stroke-linecap="round" stroke-linejoin="round" />
<path d="M385,451 L421.9,451" fill="none" stroke="#262626" stroke-width="1.0" stroke-linecap="round" stroke-linejoin="round" />
<path d="M392.95,454.8 L398.65,447.2" fill="none" stroke="#262626" stroke-width="1.0" stroke-linecap="round" stroke-linejoin="round" />
<path d="M397.15,454.8 L402.85,447.2" fill="none" stroke="#262626" stroke-width="1.0" stroke-linecap="round" stroke-linejoin="round" />
<path d="M401.95,454.8 L407.65,447.2" fill="none" stroke="#262626" stroke-width="1.0" stroke-linecap="round" stroke-linejoin="round" />
<g id="hf088ea10" transform="matrix(1.0729,0,0,0.9573,-27.657,19.095)"><g transform="translate(378.050,449.650) rotate(0) scale(0.7000) skewX(-30)" fill="none" stroke="#141414" stroke-width="2.1" stroke-linecap="round" stroke-linejoin="round"><path vector-effect="non-scaling-stroke" transform="translate(0.000,0) scale(1.15,1)" d="M4,-10 L0.7,-10 L0.4,-5.6 C1.3,-6.4 4.2,-6.4 4.2,-3 C4.2,0.3 0.8,0.3 0,-1"/><path vector-effect="non-scaling-stroke" transform="translate(8.801,0) scale(1.15,1)" d="M1.8,-10 A1.8,5 0 1 1 1.8,0 A1.8,5 0 1 1 1.8,-10 Z"/></g></g>
<g id="hc10f56a0" transform="matrix(1.0953,0,0,0.9536,-39.108,20.596)"><g transform="translate(406.950,448.850) rotate(0) scale(0.6500) skewX(-30)" fill="none" stroke="#141414" stroke-width="2.1" stroke-linecap="round" stroke-linejoin="round"><path vector-effect="non-scaling-stroke" transform="translate(0.000,0) scale(1.15,1)" d="M4,-10 L0.7,-10 L0.4,-5.6 C1.3,-6.4 4.2,-6.4 4.2,-3 C4.2,0.3 0.8,0.3 0,-1"/><path vector-effect="non-scaling-stroke" transform="translate(12.394,0) scale(1.15,1)" d="M1.8,-10 A1.8,5 0 1 1 1.8,0 A1.8,5 0 1 1 1.8,-10 Z"/></g></g>
<path d="M507.6,427.6 L507.6,466.2" fill="none" stroke="#262626" stroke-width="1.0" stroke-linecap="round" stroke-linejoin="round" />
<path d="M513.3,427.6 L513.3,495.8" fill="none" stroke="#262626" stroke-width="1.0" stroke-linecap="round" stroke-linejoin="round" />
<path d="M492.7,450.8 L527.4,450.8" fill="none" stroke="#262626" stroke-width="1.0" stroke-linecap="round" stroke-linejoin="round" />
<path d="M504.75,454.6 L510.45,447.0" fill="none" stroke="#262626" stroke-width="1.0" stroke-linecap="round" stroke-linejoin="round" />
<path d="M510.45,454.6 L516.15,447.0" fill="none" stroke="#262626" stroke-width="1.0" stroke-linecap="round" stroke-linejoin="round" />
<g id="haea5dd8f" transform="matrix(1.0793,0,0,0.9948,-38.537,2.361)"><g transform="translate(492.150,447.650) rotate(0) scale(0.7800) skewX(-30)" fill="none" stroke="#141414" stroke-width="2.1" stroke-linecap="round" stroke-linejoin="round"><path vector-effect="non-scaling-stroke" transform="translate(0.000,0) scale(1.15,1)" d="M0.5,-10 L4.4,-10 L1.4,-5.6 C4.8,-5.6 4.8,0 1.2,0 L-1.2,-0.5"/><path vector-effect="non-scaling-stroke" transform="translate(7.266,0) scale(1.15,1)" d="M1.8,-10 A1.8,5 0 1 1 1.8,0 A1.8,5 0 1 1 1.8,-10 Z"/></g></g>
<path d="M54.5,483 L220,484.2 C250,484.8 270,485.5 285.6,485.5 L400,486.8 L526.1,486.8" fill="none" stroke="#262626" stroke-width="1.1" stroke-linecap="round" stroke-linejoin="round" stroke-dasharray="16 2 4 2"/>
<path d="M62.75,488.1 L70.25,478.1" fill="none" stroke="#262626" stroke-width="1.0" stroke-linecap="round" stroke-linejoin="round" />
<path d="M171.95,488.9 L179.45,478.9" fill="none" stroke="#262626" stroke-width="1.0" stroke-linecap="round" stroke-linejoin="round" />
<path d="M281.85,490.5 L289.35,480.5" fill="none" stroke="#262626" stroke-width="1.0" stroke-linecap="round" stroke-linejoin="round" />
<path d="M396.25,491.8 L403.75,481.8" fill="none" stroke="#262626" stroke-width="1.0" stroke-linecap="round" stroke-linejoin="round" />
<path d="M509.55,491.8 L517.05,481.8" fill="none" stroke="#262626" stroke-width="1.0" stroke-linecap="round" stroke-linejoin="round" />
<g id="h677e1898" transform="matrix(1.1200,0,0,0.9320,-15.480,31.874)"><g transform="translate(111.550,477.750) rotate(0) scale(0.8900) skewX(-30)" fill="none" stroke="#141414" stroke-width="2.1" stroke-linecap="round" stroke-linejoin="round"><path vector-effect="non-scaling-stroke" transform="translate(0.000,0) scale(1.15,1)" d="M1.6,0 L1.6,-10 M-0.3,-6.6 L1.5,-8.6"/><path vector-effect="non-scaling-stroke" transform="translate(6.743,0) scale(1.15,1)" d="M0.6,-10 L0.2,-4.3 L4.5,-4.3 M3.6,-10 L3.6,0"/><path vector-effect="non-scaling-stroke" transform="translate(15.671,0) scale(1.15,1)" d="M3.8,-7.2 C3.8,-4.5 0,-4.5 0,-7.2 C0,-10.3 3.8,-10.3 3.8,-7.2 L3.6,-3 C3.4,0.3 0.8,0.3 0.2,-1"/><path vector-effect="non-scaling-stroke" transform="translate(23.794,0) scale(1.15,1)" d="M1.8,-10 A1.8,5 0 1 1 1.8,0 A1.8,5 0 1 1 1.8,-10 Z"/></g></g>
<g id="hd48facc0" transform="matrix(1.0981,0,0,1.0112,-23.869,-5.329)"><g transform="translate(226.150,478.650) rotate(0) scale(0.9300) skewX(-30)" fill="none" stroke="#141414" stroke-width="2.1" stroke-linecap="round" stroke-linejoin="round"><path vector-effect="non-scaling-stroke" transform="translate(0.000,0) scale(1.15,1)" d="M1.6,0 L1.6,-10 M-0.3,-6.6 L1.5,-8.6"/><path vector-effect="non-scaling-stroke" transform="translate(6.308,0) scale(1.15,1)" d="M4,-10 L0.7,-10 L0.4,-5.6 C1.3,-6.4 4.2,-6.4 4.2,-3 C4.2,0.3 0.8,0.3 0,-1"/><path vector-effect="non-scaling-stroke" transform="translate(14.456,0) scale(1.15,1)" d="M1.8,-10 A1.8,5 0 1 1 1.8,0 A1.8,5 0 1 1 1.8,-10 Z"/><path vector-effect="non-scaling-stroke" transform="translate(21.914,0) scale(1.15,1)" d="M1.8,-10 A1.8,5 0 1 1 1.8,0 A1.8,5 0 1 1 1.8,-10 Z"/></g></g>
<g id="hcc444859" transform="matrix(1.1028,0,0,1.0024,-36.509,-1.023)"><g transform="translate(340.450,481.450) rotate(0) scale(0.8600) skewX(-30)" fill="none" stroke="#141414" stroke-width="2.1" stroke-linecap="round" stroke-linejoin="round"><path vector-effect="non-scaling-stroke" transform="translate(0.000,0) scale(1.15,1)" d="M1.6,0 L1.6,-10 M-0.3,-6.6 L1.5,-8.6"/><path vector-effect="non-scaling-stroke" transform="translate(6.784,0) scale(1.15,1)" d="M4,-10 L0.7,-10 L0.4,-5.6 C1.3,-6.4 4.2,-6.4 4.2,-3 C4.2,0.3 0.8,0.3 0,-1"/><path vector-effect="non-scaling-stroke" transform="translate(15.408,0) scale(1.15,1)" d="M1.8,-10 A1.8,5 0 1 1 1.8,0 A1.8,5 0 1 1 1.8,-10 Z"/><path vector-effect="non-scaling-stroke" transform="translate(23.342,0) scale(1.15,1)" d="M1.8,-10 A1.8,5 0 1 1 1.8,0 A1.8,5 0 1 1 1.8,-10 Z"/></g></g>
<g id="hbc404954" transform="matrix(1.0936,0,0,0.9433,-43.477,26.755)"><g transform="translate(443.850,481.050) rotate(0) scale(0.9200) skewX(-30)" fill="none" stroke="#141414" stroke-width="2.1" stroke-linecap="round" stroke-linejoin="round"><path vector-effect="non-scaling-stroke" transform="translate(0.000,0) scale(1.15,1)" d="M1.6,0 L1.6,-10 M-0.3,-6.6 L1.5,-8.6"/><path vector-effect="non-scaling-stroke" transform="translate(7.319,0) scale(1.15,1)" d="M0.6,-10 L0.2,-4.3 L4.5,-4.3 M3.6,-10 L3.6,0"/><path vector-effect="non-scaling-stroke" transform="translate(16.823,0) scale(1.15,1)" d="M3.8,-7.2 C3.8,-4.5 0,-4.5 0,-7.2 C0,-10.3 3.8,-10.3 3.8,-7.2 L3.6,-3 C3.4,0.3 0.8,0.3 0.2,-1"/><path vector-effect="non-scaling-stroke" transform="translate(25.521,0) scale(1.15,1)" d="M1.8,-10 A1.8,5 0 1 1 1.8,0 A1.8,5 0 1 1 1.8,-10 Z"/></g></g>
<path d="M511.7,399.1 L563.4,399.1" fill="none" stroke="#262626" stroke-width="1.0" stroke-linecap="round" stroke-linejoin="round" />
<path d="M513,428.7 L562,428.7" fill="none" stroke="#262626" stroke-width="1.0" stroke-linecap="round" stroke-linejoin="round" />
<path d="M555.4,393.3 L555.4,443.8" fill="none" stroke="#262626" stroke-width="1.0" stroke-linecap="round" stroke-linejoin="round" />
<path d="M552.7,395.05 L559.9,404.05" fill="none" stroke="#262626" stroke-width="1.0" stroke-linecap="round" stroke-linejoin="round" />
<path d="M552.7,424.65 L559.9,433.65" fill="none" stroke="#262626" stroke-width="1.0" stroke-linecap="round" stroke-linejoin="round" />
<ellipse cx="540.4" cy="408.5" rx="4.4" ry="1.8" transform="rotate(55 540.4 408.5)" fill="none" stroke="#141414" stroke-width="1.5"/>
<ellipse cx="547.2" cy="415.4" rx="6.2" ry="2.4" transform="rotate(50 547.2 415.4)" fill="none" stroke="#141414" stroke-width="1.5"/>
</svg></body></html>
